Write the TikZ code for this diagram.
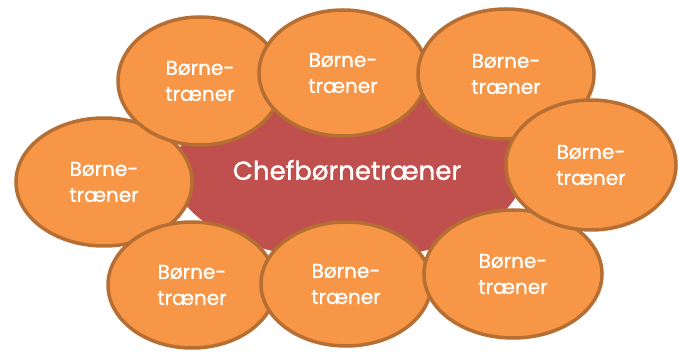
\documentclass[tikz,border=0pt]{standalone}
\usepackage{fontspec}
\setmainfont{Poppins}[FakeBold=1.2]
\usetikzlibrary{shapes.geometric}
\definecolor{orfill}{HTML}{F79646}
\definecolor{orline}{HTML}{B76E32}
\definecolor{chefred}{HTML}{C0504D}
\begin{document}
\begin{tikzpicture}[x=1pt,y=-1pt,
  coach/.style={ellipse, fill=orfill, draw=orline, line width=3.5pt, inner sep=0pt,
    text=white, align=center, font=\fontsize{20}{26}\selectfont},
  chef/.style={ellipse, fill=chefred, inner sep=0pt, text=white,
    font=\fontsize{26}{30}\selectfont}]
\useasboundingbox (0,0) rectangle (679,352);
\node[chef, minimum width=350pt, minimum height=175pt] (c) at (348,172) {};
\node[coach, minimum width=176pt, minimum height=128pt] (e8) at (104,182) {Børne-\\træner};
\node[coach, minimum width=164pt, minimum height=128pt] (e1) at (200,81) {Børne-\\træner};
\node[coach, minimum width=168pt, minimum height=126pt] (e2) at (343,73) {Børne-\\træner};
\node[coach, minimum width=176pt, minimum height=130pt] (e3) at (506,74) {Børne-\\træner};
\node[coach, minimum width=168pt, minimum height=126pt] (e7) at (192,285) {Børne-\\træner};
\node[coach, minimum width=170pt, minimum height=124pt] (e6) at (346,284) {Børne-\\træner};
\node[coach, minimum width=178pt, minimum height=128pt] (e5) at (513,274) {Børne-\\træner};
\node[coach, minimum width=170pt, minimum height=130pt] (e4) at (591,165) {Børne-\\træner};
\node[text=white, font=\fontsize{26}{30}\selectfont] (t) at (347,170) {Chefbørnetræner};
\end{tikzpicture}
\end{document}
